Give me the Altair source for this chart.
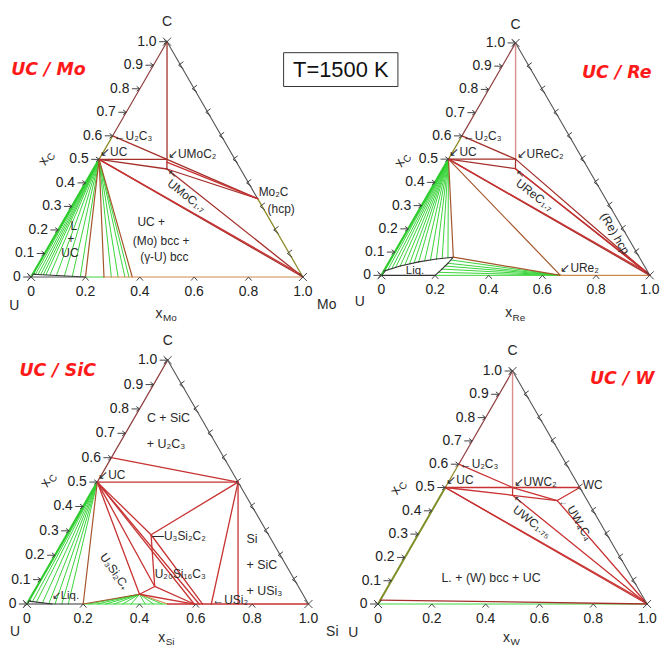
import math
import altair as alt
import pandas as pd

# ---------------- values ----------------
TEMPERATURE_TEXT = "T=1500 K"

LEFT_TICK_VALUES = [0.0, 0.1, 0.2, 0.3, 0.4, 0.5, 0.6, 0.7, 0.8, 0.9, 1.0]
LEFT_TICK_LABELS = ["0", "0.1", "0.2", "0.3", "0.4", "0.5", "0.6", "0.7", "0.8", "0.9", "1.0"]
RIGHT_TICK_VALUES = [0.1, 0.2, 0.3, 0.4, 0.5, 0.6, 0.7, 0.8, 0.9]
BOTTOM_TICK_VALUES = [0.2, 0.4, 0.6, 0.8]
BOTTOM_LABEL_VALUES = [0.0, 0.2, 0.4, 0.6, 0.8, 1.0]
BOTTOM_LABELS = ["0", "0.2", "0.4", "0.6", "0.8", "1.0"]
CORNERS = [(0.0, 0.0), (1.0, 0.0), (0.0, 1.0)]

# compositions are (x_B, x_C) where B = Mo / Re / Si / W
# ---- UC / Mo ----
MO_PTS = {"C": (0, 1), "U": (0, 0), "B": (1, 0), "U2C3": (0, 0.6), "UC": (0, 0.5),
          "UMoC2": (0.25, 0.5), "UMoC1.7": (0.27, 0.459), "Mo2C": (0.667, 0.333)}
MO_LINES = [
    ("C", "U2C3", "edge"), ("U2C3", "UC", "olive"), ("UC", "U", "greenedge"),
    ("C", "Mo2C", "gray"), ("Mo2C", "B", "olive"),
    ("U", (0.2, 0.0), "gray"), ((0.2, 0.0), (0.268, 0.0), "green"), ((0.268, 0.0), "B", "orange"),
    ((0.0, 0.012), (0.2, 0.0), "black"),
    ("C", "UMoC2", "darkred"), ("U2C3", "UMoC2", "darkred"), ("UC", "UMoC2", "darkred"),
    ("UMoC2", "UMoC1.7", "darkred"), ("UC", "UMoC1.7", "darkred"),
    ("UMoC2", "Mo2C", "darkred"), ((0.255, 0.488), "Mo2C", "red"), ("UMoC1.7", "Mo2C", "darkred"),
    ("UC", "B", "darkred"), ("UC", (0.985, 0.012), "red"), ("UMoC1.7", "B", "darkred"),
    ("UC", (0.2, 0.0), "brown"), ("UC", (0.268, 0.0), "brown"), ("UC", (0.372, 0.0), "brown"),
]
MO_LIQ_TIE_XB = [0.0, 0.01, 0.02, 0.03, 0.04, 0.05, 0.065, 0.09, 0.12, 0.15, 0.18]
MO_LIQ_TIE_XC = [0.012, 0.011, 0.011, 0.010, 0.010, 0.009, 0.008, 0.006, 0.005, 0.003, 0.002]
MO_BCC_TIE_XB = [0.295, 0.32, 0.345, 0.36]

# ---- UC / Re ----
RE_PTS = {"C": (0, 1), "U": (0, 0), "B": (1, 0), "U2C3": (0, 0.6), "UC": (0, 0.5),
          "UReC2": (0.25, 0.5), "UReC1.7": (0.27, 0.459), "URe2": (0.667, 0.0), "Lq": (0.229, 0.078)}
RE_LINES = [
    ("C", "U2C3", "edge"), ("U2C3", "UC", "olive"), ("UC", "U", "greenedge"), ("C", "B", "gray"),
    ("U", (0.2, 0.0), "black"), ((0.2, 0.0), "URe2", "green"), ("URe2", "B", "orange"),
    ("C", "UReC2", "pink"), ("U2C3", "UReC2", "darkred"), ("UC", "UReC2", "darkred"),
    ("UReC2", "UReC1.7", "darkred"), ("UC", "UReC1.7", "darkred"), ("UReC2", "B", "darkred"),
    ("UReC1.7", "B", "darkred"), ("UReC1.7", (0.985, 0.012), "red"),
    ("UC", "B", "darkred"), ("UC", (0.985, 0.012), "red"),
    ("UC", "URe2", "brown"), ("UC", "Lq", "brown"), ("Lq", "URe2", "brown"),
]
RE_LIQ_UPPER = [(0.0, 0.018), (0.05, 0.04), (0.11, 0.058), (0.17, 0.07), (0.229, 0.078)]
RE_LIQ_RIGHT = [(0.229, 0.078), (0.222, 0.052), (0.212, 0.027), (0.2, 0.0)]
RE_LIQ_TIES = [(0.0, 0.018), (0.012, 0.024), (0.024, 0.03), (0.036, 0.035), (0.05, 0.04),
               (0.065, 0.045), (0.08, 0.05), (0.095, 0.054), (0.11, 0.058), (0.13, 0.062),
               (0.15, 0.066), (0.17, 0.07), (0.19, 0.073), (0.21, 0.076)]
RE_URE2_TIES = [(0.226, 0.066), (0.221, 0.052), (0.216, 0.04), (0.212, 0.027), (0.206, 0.013)]

# ---- UC / SiC ----
SI_PTS = {"C": (0, 1), "U": (0, 0), "B": (1, 0), "U2C3": (0, 0.6), "UC": (0, 0.5), "SiC": (0.5, 0.5),
          "U3Si2C2": (0.299, 0.284), "U20Si16C3": (0.418, 0.072), "U3Si2Cx": (0.38, 0.04),
          "USi2": (0.655, 0.0), "USi3": (0.75, 0.0), "Lq": (0.088, 0.0)}
SI_LINES = [
    ("C", "UC", "edge"), ("UC", "U", "greenedge"), ("C", "B", "gray"),
    ("U", (0.2, 0.0), "black"), ((0.2, 0.0), (0.5, 0.0), "green"), ((0.5, 0.0), "B", "red"),
    ((0.0, 0.012), (0.09, 0.0), "black"),
    ("U2C3", "SiC", "red"), ("UC", "SiC", "red"), ("SiC", "U3Si2C2", "red"), ("SiC", "USi2", "red"),
    ("SiC", "USi3", "red"),
    ("UC", "U3Si2C2", "red"), ("UC", "U3Si2Cx", "red"), ("UC", "U20Si16C3", "red"),
    ("UC", (0.594, 0.0), "red"), ("UC", (0.612, 0.0), "red"),
    ("U3Si2C2", (0.624, 0.0), "red"), ("U3Si2C2", "U20Si16C3", "red"), ("U20Si16C3", "U3Si2Cx", "red"),
    ("U20Si16C3", (0.594, 0.0), "red"), ("U3Si2Cx", (0.594, 0.0), "red"),
    ("UC", (0.2, 0.0), "brown"), ((0.2, 0.0), "U3Si2Cx", "brown"), ("U3Si2Cx", (0.5, 0.0), "orange"),
]
SI_LIQ_TIES = [(0.0, 0.012), (0.015, 0.010), (0.03, 0.008), (0.053, 0.005), (0.077, 0.002),
               (0.1, 0.0), (0.124, 0.0), (0.147, 0.0)]
SI_U3SI2C_TIES = [(0.22, 0.0), (0.25, 0.0), (0.28, 0.0), (0.31, 0.0), (0.34, 0.0), (0.37, 0.0),
                  (0.42, 0.0), (0.45, 0.0), (0.48, 0.0)]

# ---- UC / W ----
W_PTS = {"C": (0, 1), "U": (0, 0), "B": (1, 0), "U2C3": (0, 0.6), "UC": (0, 0.5), "UWC2": (0.25, 0.5),
         "UWC1.75": (0.2667, 0.4667), "WC": (0.5, 0.5), "UW4C4": (0.444, 0.444)}
W_LINES = [
    ("C", "U2C3", "edge"), ("U2C3", "UC", "olive"), ("UC", "U", "olivethick"), ("C", "B", "gray"),
    ("U", "B", "green"), ((0.0, 0.017), "B", "darkred"),
    ("C", "UWC2", "pink"), ("U2C3", "UWC2", "red"), ("UWC2", "UW4C4", "red"), ("UC", "WC", "red"),
    ("WC", "UW4C4", "red"), ("UWC2", "UWC1.75", "red"), ("UC", "UWC1.75", "red"),
    ("UWC1.75", "UW4C4", "red"), ("UWC1.75", "B", "red"), ("UW4C4", "B", "red"),
    ("UC", "B", "red"), ("UC", (0.985, 0.012), "red"),
]

# ---------------- styling / layout ----------------
FONT = "Liberation Sans"
KIND_ORDER = ["green", "greenedge", "black", "brown", "orange", "olive", "olivethick", "gray",
              "edge", "pink", "darkred", "red"]
KIND_COLOR = {"green": "#3ad43a", "greenedge": "#2fcc2f", "black": "#333333", "brown": "#a5552b",
              "orange": "#cf8a4e", "olive": "#8c8c2a", "olivethick": "#7f8f2a", "gray": "#555555",
              "edge": "#8f3f3f", "pink": "#d98c8c", "darkred": "#a4302b", "red": "#c83232"}
KIND_WIDTH = {"green": 1.0, "greenedge": 2.2, "black": 1.1, "brown": 1.2, "orange": 1.2,
              "olive": 1.3, "olivethick": 2.0, "gray": 1.1, "edge": 1.2, "pink": 1.4,
              "darkred": 1.3, "red": 1.3}
TICK_COLOR = "#444444"

SHAPE_LEFT = "M-2,0L0,0M-0.8,-0.6L0,0L-0.8,0.6"
SHAPE_RIGHT = "M0.7,-0.9L-0.5,0L0.7,0.9"
SHAPE_BOTTOM = "M-0.8,0.9L0,0L0.8,0.9"
SHAPE_CORNER = "M-1,-1L1,1M-1,1L1,-1"

SQ3 = math.sqrt(3) / 2


def tern(p):
    xb, xc = p
    return xb + xc / 2.0, xc


def build_panel(geom, pts, lines, ties, curves, labels, title, box=None):
    w, h, ux, uy, side = geom
    H = side * SQ3
    xs = alt.Scale(domain=[-ux / side, (w - ux) / side], nice=False, zero=False)
    ys = alt.Scale(domain=[(uy - h) / H, uy / H], nice=False, zero=False)
    X = alt.X("x:Q", scale=xs, axis=None)
    Y = alt.Y("y:Q", scale=ys, axis=None)

    def res(p):
        return pts[p] if isinstance(p, str) else p

    rows = []
    allsegs = list(ties) + list(lines)
    for pts_list, kind in curves:
        for a, b in zip(pts_list[:-1], pts_list[1:]):
            allsegs.append((a, b, kind))
    for a, b, kind in allsegs:
        x1, y1 = tern(res(a))
        x2, y2 = tern(res(b))
        rows.append(dict(x=x1, y=y1, x2=x2, y2=y2, kind=kind, sw=KIND_WIDTH[kind],
                         o=KIND_ORDER.index(kind)))
    df = pd.DataFrame(rows).sort_values("o", kind="stable").reset_index(drop=True)
    layers = [alt.Chart(df).mark_rule(strokeCap="round").encode(
        x=X, y=Y, x2="x2:Q", y2="y2:Q",
        color=alt.Color("kind:N", scale=alt.Scale(domain=KIND_ORDER,
                                                  range=[KIND_COLOR[k] for k in KIND_ORDER]),
                        legend=None),
        strokeWidth=alt.StrokeWidth("sw:Q", scale=None))]

    # tick marks
    def tdf(comps):
        return pd.DataFrame([dict(x=tern(c)[0], y=tern(c)[1]) for c in comps])

    for comps, shape, size in [
        ([(0.0, v) for v in LEFT_TICK_VALUES], SHAPE_LEFT, 64),
        ([(1.0 - v, v) for v in RIGHT_TICK_VALUES], SHAPE_RIGHT, 64),
        ([(v, 0.0) for v in BOTTOM_TICK_VALUES], SHAPE_BOTTOM, 64),
        (CORNERS, SHAPE_CORNER, 64),
    ]:
        layers.append(alt.Chart(tdf(comps)).mark_point(
            shape=shape, size=size, filled=False, stroke=TICK_COLOR, strokeWidth=1,
            opacity=1).encode(x=X, y=Y))

    # tick labels
    lt = pd.DataFrame([dict(x=tern((0.0, v))[0] - 10.5 / side, y=v, text=t)
                       for v, t in zip(LEFT_TICK_VALUES, LEFT_TICK_LABELS)])
    layers.append(alt.Chart(lt).mark_text(align="right", baseline="middle", font=FONT,
                                          fontSize=14, color="#222").encode(x=X, y=Y, text="text:N"))
    bt = pd.DataFrame([dict(x=v, y=-15.0 / H, text=t)
                       for v, t in zip(BOTTOM_LABEL_VALUES, BOTTOM_LABELS)])
    layers.append(alt.Chart(bt).mark_text(align="center", baseline="middle", font=FONT,
                                          fontSize=14, color="#222").encode(x=X, y=Y, text="text:N"))

    # annotation labels
    lrows = []
    for s in labels:
        text, anc, dx, dy, align, angle, size = s[:7]
        sub = s[7] if len(s) > 7 else None
        ax, ay = tern(res(anc))
        lrows.append(dict(x=ax + dx / side, y=ay - dy / H, text=text, align=align,
                          angle=angle, size=size))
        if sub:
            a = math.radians(angle)
            u, v = 4.0, 4.5
            ox = u * math.cos(a) - v * math.sin(a)
            oy = u * math.sin(a) + v * math.cos(a)
            lrows.append(dict(x=ax + (dx + ox) / side, y=ay - (dy + oy) / H, text=sub,
                              align="left", angle=angle, size=10))
    ldf = pd.DataFrame(lrows)
    for al in ["left", "center", "right"]:
        sub = ldf[ldf["align"] == al]
        if len(sub):
            layers.append(alt.Chart(sub).mark_text(align=al, baseline="middle", font=FONT,
                                                   color="#2a2a2a").encode(
                x=X, y=Y, text="text:N", angle=alt.Angle("angle:Q", scale=None),
                size=alt.Size("size:Q", scale=None)))

    # red title
    ttext, tdx, tdy = title
    tt = pd.DataFrame([dict(x=tdx / side, y=-tdy / H, text=ttext)])
    layers.append(alt.Chart(tt).mark_text(align="center", baseline="middle", font="DejaVu Sans",
                                          fontSize=17.5, fontWeight="bold", fontStyle="italic",
                                          color="#ff1a1a").encode(x=X, y=Y, text="text:N"))

    if box is not None:
        btext, bx1, by1, bx2, by2 = box
        bdf = pd.DataFrame([dict(x=bx1 / side, y=-by1 / H, x2=bx2 / side, y2=-by2 / H,
                                 cx=(bx1 + bx2) / 2 / side, cy=-(by1 + by2) / 2 / H, text=btext)])
        layers.append(alt.Chart(bdf).mark_rect(fillOpacity=0, stroke="#333333", strokeWidth=1).encode(
            x=X, y=Y, x2="x2:Q", y2="y2:Q"))
        layers.append(alt.Chart(bdf).mark_text(align="center", baseline="middle", font=FONT,
                                               fontSize=22, color="#111").encode(
            x=alt.X("cx:Q", scale=xs, axis=None), y=alt.Y("cy:Q", scale=ys, axis=None),
            text="text:N"))

    return alt.layer(*layers).properties(width=w, height=h)


MID = (0.5, 0.0)
# label specs: text, anchor, dx px, dy px, align, angle, font size, [subscript]
MO_LABELS = [
    ("C", "C", 0, -20, "center", 0, 14), ("U", "U", -17, 29, "center", 0, 14),
    ("Mo", "B", 24, 28, "center", 0, 14),
    ("x", MID, -8, 37, "center", 0, 14, "Mo"),
    ("x", "UC", -56, 2, "center", 300, 14, "C"),
    ("←U₂C₃", "U2C3", 1, 0, "left", 0, 12), ("↙UC", "UC", 1, -7, "left", 0, 12),
    ("↙UMoC₂", "UMoC2", 1, -5, "left", 0, 12), ("↖", "UMoC1.7", 1, 5, "left", 0, 10),
    ("UMoC₁.₇", "UMoC1.7", 2, 13, "left", 38, 12),
    ("Mo₂C", "Mo2C", 1, -7, "left", 0, 12), ("(hcp)", "Mo2C", 10, 10, "left", 0, 12),
    ("L", "U", 43, -51, "center", 0, 12), ("+", "U", 40, -38, "center", 0, 12),
    ("UC", "U", 39, -24, "center", 0, 12),
    ("UC +", "U", 120.7, -55, "center", 0, 12), ("(Mo) bcc +", "U", 130.7, -36, "center", 0, 12),
    ("(γ-U) bcc", "U", 134, -20, "center", 0, 12),
]
RE_LABELS = [
    ("C", "C", 0, -18.5, "center", 0, 14), ("U", "U", -21.7, 27, "center", 0, 14),
    ("x", MID, -7, 38, "center", 0, 14, "Re"),
    ("x", "UC", -49, 4, "center", 300, 14, "C"),
    ("←U₂C₃", "U2C3", 1, 0, "left", 0, 12), ("↙UC", "UC", 1, -7, "left", 0, 12),
    ("↙UReC₂", "UReC2", 1, -5, "left", 0, 12), ("↖", "UReC1.7", 1, 5, "left", 0, 10),
    ("UReC₁.₇", "UReC1.7", 2, 13, "left", 38, 12),
    ("↙URe₂", "URe2", 0, -7, "left", 0, 12),
    ("(Re) hcp", "B", -35, -42, "center", 60, 12),
    ("Liq.", "U", 33.8, -4, "center", 0, 11.5),
]
SI_LABELS = [
    ("C", "C", 0, -19.7, "center", 0, 14), ("U", "U", -12, 28, "center", 0, 14),
    ("Si", "B", 24, 28, "center", 0, 14),
    ("x", MID, -6, 34, "center", 0, 14, "Si"),
    ("x", "UC", -52, 1, "center", 300, 14, "C"),
    ("C + SiC", "U", 142.5, -186.7, "center", 0, 12.5), ("+ U₂C₃", "U", 140, -160.7, "center", 0, 12.5),
    ("↙UC", "UC", 1, -7, "left", 0, 12),
    ("—U₃Si₂C₂", "U3Si2C2", 1, 1, "left", 0, 12),
    ("U₂₀Si₁₆C₃", "U20Si16C3", 0, -13, "left", 0, 12),
    ("U₃Si₂C₊", "U3Si2Cx", -25, -23, "center", 55, 12),
    ("Si", "U", 221, -65.2, "left", 0, 12.5), ("+ SiC", "U", 221, -39, "left", 0, 12.5),
    ("+ USi₃", "U", 221, -12.7, "left", 0, 12.5),
    ("←USi₂", "USi2", 1, -4, "left", 0, 12),
    ("↙Liq.", "Lq", 0, -8, "left", 0, 11.5),
]
W_LABELS = [
    ("C", "C", 0, -20.6, "center", 0, 14), ("U", "U", -25, 29, "center", 0, 14),
    ("x", MID, -6, 34, "center", 0, 14, "W"),
    ("x", "UC", -50, 3, "center", 300, 14, "C"),
    ("←U₂C₃", "U2C3", 1, 0, "left", 0, 12), ("↙UC", "UC", 1, -8, "left", 0, 12),
    ("↙UWC₂", "UWC2", 1, -6, "left", 0, 12), ("↖", "UWC1.75", 1, 5, "left", 0, 10),
    ("UWC₁.₇₅", "UWC1.75", 2, 13, "left", 38, 12),
    ("WC", "WC", 3, -3, "left", 0, 12), ("←", "UW4C4", 1, 1, "left", 0, 10),
    ("UW₄C₄", "UW4C4", 13, 6, "left", 60, 12),
    ("L. + (W) bcc + UC", "U", 113.7, -25.7, "center", 0, 12.5),
]

# panel geometry: width, height, U-corner x, U-corner y (px inside the panel), side length px
GEOM_MO = (326, 320, 21.3, 268.7, 273.4)
GEOM_RE = (326, 320, 47.7, 267.0, 270.0)
GEOM_SI = (326, 315, 17.0, 277.7, 283.3)
GEOM_W = (326, 315, 44.3, 277.7, 270.7)

mo_ties = ([("UC", (xb, xc), "green") for xb, xc in zip(MO_LIQ_TIE_XB, MO_LIQ_TIE_XC)] +
           [("UC", (xb, 0.0), "green") for xb in MO_BCC_TIE_XB])
re_ties = ([("UC", p, "green") for p in RE_LIQ_TIES] + [("URe2", p, "green") for p in RE_URE2_TIES])
si_ties = ([("UC", p, "green") for p in SI_LIQ_TIES] + [("U3Si2Cx", p, "green") for p in SI_U3SI2C_TIES])

p_mo = build_panel(GEOM_MO, MO_PTS, MO_LINES, mo_ties, [], MO_LABELS, ("UC / Mo", 17.4, -208.4),
                   box=(TEMPERATURE_TEXT, 254, -225.7, 369, -191.7))
p_re = build_panel(GEOM_RE, RE_PTS, RE_LINES, re_ties,
                   [(RE_LIQ_UPPER, "black"), (RE_LIQ_RIGHT, "black")], RE_LABELS, ("UC / Re", 236.8, -203.5))
p_si = build_panel(GEOM_SI, SI_PTS, SI_LINES, si_ties, [], SI_LABELS, ("UC / SiC", 31, -234.7))
p_w = build_panel(GEOM_W, W_PTS, W_LINES, [], [], W_LABELS, ("UC / W", 245.7, -226.7))

chart = (alt.concat(p_mo, p_re, p_si, p_w, columns=2, spacing=0, bounds="flush")
         .properties(padding=0)
         .configure_view(strokeWidth=0))

chart.save("out.html", embed_options={"renderer": "svg", "actions": False})
